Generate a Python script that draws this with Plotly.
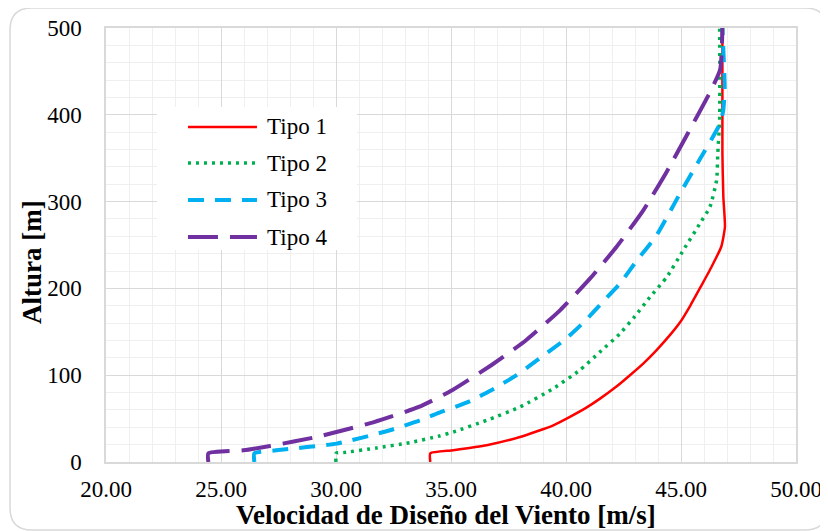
import plotly.graph_objects as go

# ---- data ----
tipo1_z = [0, 10, 13.5, 19.3, 28.8, 42.3, 52, 62, 73, 86, 100, 114, 129, 145, 161, 180, 202, 225, 248, 271, 306, 356, 500]
tipo1_v = [34.1, 34.1, 35.1, 36.55, 38.0, 39.45, 40.17, 40.85, 41.48, 42.15, 42.78, 43.38, 43.94, 44.48, 44.96, 45.4, 45.86, 46.33, 46.75, 46.91, 46.84, 46.8, 46.8]

tipo2_z = [0, 10, 10.8, 16.2, 22.3, 30, 34.6, 48, 63.4, 84.7, 105.8, 126.9, 148, 168, 190, 213, 244, 275, 294, 325, 356, 394, 500]
tipo2_v = [30.0, 30.0, 30.32, 31.77, 33.2, 34.5, 35.1, 36.55, 38.0, 39.45, 40.6, 41.48, 42.35, 43.0, 43.65, 44.38, 45.1, 45.83, 46.26, 46.55, 46.6, 46.68, 46.68]

tipo3_z = [0, 10, 13.5, 21.2, 36.6, 48, 55.8, 69.2, 82.7, 100, 117, 142, 163, 184.5, 205.8, 234.6, 259.5, 285, 309.6, 348, 390, 405.7, 430, 500]
tipo3_v = [26.45, 26.45, 27.4, 30.03, 32.35, 33.65, 34.38, 35.75, 36.75, 37.85, 38.73, 40.0, 40.85, 41.6, 42.35, 43.15, 43.9, 44.45, 44.96, 45.8, 46.7, 46.84, 46.9, 46.8]

tipo4_z = [0, 10, 13.5, 18.5, 28.8, 46, 63.4, 82.7, 111.5, 140, 175, 211.5, 248, 290, 334.5, 378.8, 423, 451.8, 500]
tipo4_v = [24.45, 24.45, 25.97, 27.13, 29.15, 31.65, 33.6, 35.05, 36.75, 38.25, 39.75, 41.05, 42.2, 43.36, 44.38, 45.3, 46.2, 46.7, 46.8]

series_names = ["Tipo 1", "Tipo 2", "Tipo 3", "Tipo 4"]
series_colors = ["#ff0000", "#00b050", "#00b0f0", "#7030a0"]
series_dash = ["solid", "3px,5px", "16px,11px", "30px,12px"]
series_width = [2.5, 3.5, 4, 4]

x_range = [20, 50]
y_range = [0, 500]

FONT = "Liberation Serif, Times New Roman, serif"

fig = go.Figure()
data = [(tipo1_v, tipo1_z), (tipo2_v, tipo2_z), (tipo3_v, tipo3_z), (tipo4_v, tipo4_z)]
for (v, z), name, col, dash, w in zip(data, series_names, series_colors, series_dash, series_width):
    fig.add_trace(go.Scatter(x=v, y=z, mode="lines", name=name,
                             line=dict(color=col, width=w, dash=dash, shape="spline", smoothing=0.5),
                             showlegend=False))

# ---- manual legend (paper coordinates) ----
shapes = []
shapes.append(dict(type="rect", xref="paper", yref="paper", x0=0.0739, x1=0.3638, y0=0.4885, y1=0.818,
                   fillcolor="white", line=dict(width=0), layer="above"))
leg_y = [0.7719, 0.6889, 0.6037, 0.5184]
annotations = []
for ly, name, col, dash, w in zip(leg_y, series_names, series_colors, series_dash, series_width):
    shapes.append(dict(type="line", xref="paper", yref="paper", x0=0.1188, x1=0.2188, y0=ly, y1=ly,
                       line=dict(color=col, width=w, dash=dash), layer="above"))
    annotations.append(dict(xref="paper", yref="paper", x=0.2304, y=ly, text=name, showarrow=False,
                            xanchor="left", yanchor="middle", font=dict(family=FONT, size=23, color="#000")))

# ---- rounded outer frame ----
x0, x1, y0, y1 = -0.1391, 1.0449, -0.1567, 1.0461
rx, ry = 22 / 690, 22 / 434
path = (f"M {x0+rx},{y1} L {x1-rx},{y1} Q {x1},{y1} {x1},{y1-ry} L {x1},{y0+ry} Q {x1},{y0} {x1-rx},{y0} "
        f"L {x0+rx},{y0} Q {x0},{y0} {x0},{y0+ry} L {x0},{y1-ry} Q {x0},{y1} {x0+rx},{y1} Z")
shapes.append(dict(type="path", xref="paper", yref="paper", path=path,
                   line=dict(color="#d9d9d9", width=1.5), layer="below"))

# ---- axis titles ----
annotations.append(dict(xref="paper", yref="paper", x=-0.107, y=0.461, text="<b>Altura [m]</b>",
                        textangle=-90, showarrow=False, xanchor="center", yanchor="middle",
                        font=dict(family=FONT, size=27, color="#000")))
annotations.append(dict(xref="paper", yref="paper", x=0.4928, y=-0.122,
                        text="<b>Velocidad de Diseño del Viento [m/s]</b>",
                        showarrow=False, xanchor="center", yanchor="middle",
                        font=dict(family=FONT, size=27, color="#000")))

# page body has an 8px default margin, so the figure is 8px smaller and offset
fig.update_layout(
    width=820, height=523,
    margin=dict(l=98, r=32, t=20, b=69, autoexpand=False),
    paper_bgcolor="white", plot_bgcolor="white",
    shapes=shapes, annotations=annotations,
    font=dict(family=FONT, size=23, color="#000"),
)
fig.update_xaxes(range=x_range, dtick=5, tick0=20, tickformat=".2f",
                 showgrid=True, gridcolor="#d9d9d9", gridwidth=1,
                 minor=dict(dtick=1, showgrid=True, gridcolor="#efefef", gridwidth=1),
                 showline=True, linecolor="#d9d9d9", linewidth=1.5, mirror=True,
                 zeroline=False, ticks="", ticklabelstandoff=6,
                 tickfont=dict(family=FONT, size=23, color="#000"))
fig.update_yaxes(range=y_range, dtick=100, tick0=0,
                 showgrid=True, gridcolor="#d9d9d9", gridwidth=1,
                 minor=dict(dtick=20, showgrid=True, gridcolor="#efefef", gridwidth=1),
                 showline=True, linecolor="#d9d9d9", linewidth=1.5, mirror=True,
                 zeroline=False, ticks="", ticklabelstandoff=18,
                 tickfont=dict(family=FONT, size=23, color="#000"))

fig.write_html("out.html")
